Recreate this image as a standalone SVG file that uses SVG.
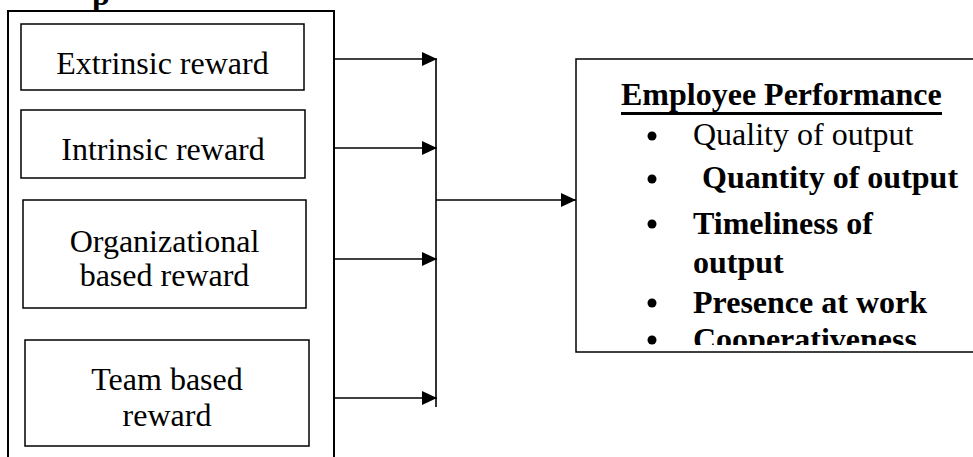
<svg xmlns="http://www.w3.org/2000/svg" width="973" height="457" viewBox="0 0 973 457">
<style>
.box{fill:none;stroke:#000;stroke-width:1.5}
.outer{fill:none;stroke:#000;stroke-width:2}
.lbl{font-family:"Liberation Serif","Times New Roman",serif;font-size:32px;fill:#000;text-anchor:middle}
.it{font-family:"Liberation Serif","Times New Roman",serif;font-size:32px;fill:#000}
.b{font-weight:bold}
.conn{fill:none;stroke:#000;stroke-width:1.6}
</style>
<defs>
<marker id="ah" markerUnits="userSpaceOnUse" markerWidth="16" markerHeight="14" refX="15" refY="7" orient="auto">
<path d="M0,0 L15,7 L0,14 z" fill="#000"/>
</marker>
<clipPath id="clipR"><rect x="577" y="60" width="400" height="285"/></clipPath>
</defs>
<rect width="973" height="457" fill="#fff"/>
<text class="it b" x="92" y="5">p</text>
<g id="independent">
<path class="outer" d="M8,470 L8,11 L334,11 L334,470"/>
</g>
<g id="extrinsic">
<rect class="box" x="21" y="24" width="283" height="66"/>
<text class="lbl" x="162.5" y="74">Extrinsic reward</text>
</g>
<g id="intrinsic">
<rect class="box" x="21" y="110" width="284" height="68"/>
<text class="lbl" x="163" y="160">Intrinsic reward</text>
</g>
<g id="organizational">
<rect class="box" x="23" y="200" width="283" height="108"/>
<text class="lbl" x="164.5" y="252">Organizational</text>
<text class="lbl" x="164.5" y="286">based reward</text>
</g>
<g id="team">
<rect class="box" x="25" y="340" width="284" height="106"/>
<text class="lbl" x="167" y="390">Team based</text>
<text class="lbl" x="167" y="426">reward</text>
</g>
<g id="performance">
<rect class="box" x="576" y="59" width="410" height="293"/>
<text class="it b" x="621" y="105">Employee Performance</text>
<line x1="621" y1="113.5" x2="942" y2="113.5" stroke="#000" stroke-width="3"/>
<circle cx="652" cy="136" r="4.5"/>
<text class="it" x="693" y="145">Quality of output</text>
<circle cx="652" cy="179" r="4.5"/>
<text class="it b" x="694" y="188" xml:space="preserve"> Quantity of output</text>
<circle cx="652" cy="224" r="4.5"/>
<text class="it b" x="693" y="234">Timeliness of</text>
<text class="it b" x="693" y="273">output</text>
<circle cx="652" cy="303" r="4.5"/>
<text class="it b" x="693" y="313">Presence at work</text>
<circle cx="652" cy="340" r="4.5"/>
<g clip-path="url(#clipR)">
<text class="it b" x="693" y="350">Cooperativeness</text>
</g>
</g>
<g id="connectors">
<line class="conn" x1="334" y1="59" x2="437" y2="59" marker-end="url(#ah)"/>
<line class="conn" x1="334" y1="148" x2="437" y2="148" marker-end="url(#ah)"/>
<line class="conn" x1="334" y1="259" x2="437" y2="259" marker-end="url(#ah)"/>
<line class="conn" x1="334" y1="398" x2="437" y2="398" marker-end="url(#ah)"/>
<line class="conn" x1="436" y1="59" x2="436" y2="407"/>
<line class="conn" x1="436" y1="200" x2="576" y2="200" marker-end="url(#ah)"/>
</g>
</svg>
